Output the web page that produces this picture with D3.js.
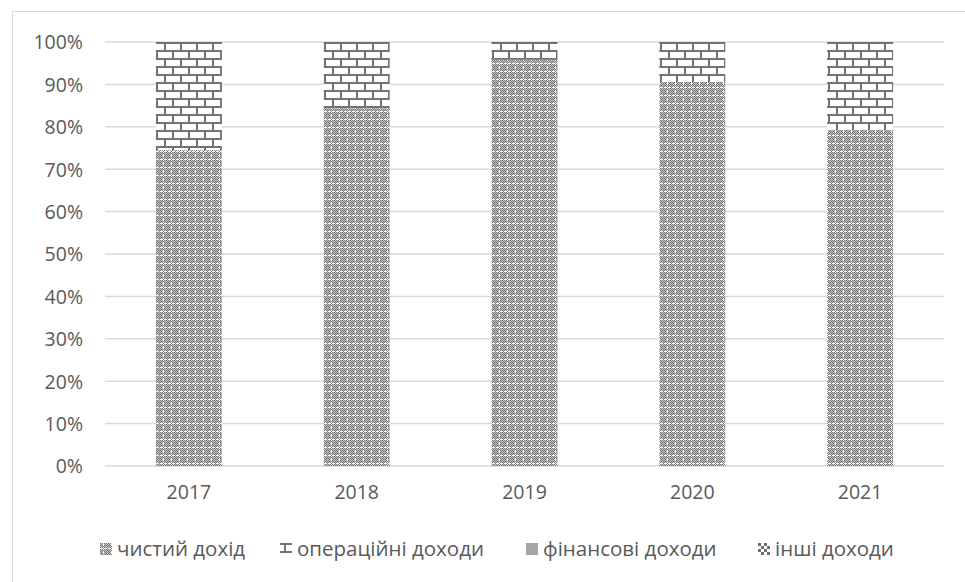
<!DOCTYPE html>
<html>
<head>
<meta charset="utf-8">
<script src="https://cdn.jsdelivr.net/npm/d3@7"></script>
<style>
  html, body { margin: 0; padding: 0; background: #fff; }
  svg { display: block; }
  text { font-family: "Open Sans", "Noto Sans", sans-serif; fill: #595959; }
</style>
</head>
<body>
<svg id="chart" width="965" height="582"></svg>
<script>
// ---- data ----
const years = ["2017", "2018", "2019", "2020", "2021"];
const seriesNames = ["чистий дохід", "операційні доходи", "фінансові доходи", "інші доходи"];
const netIncome = [74.5, 84.4, 95.8, 90.6, 79.2];
const operatingIncome = [25.5, 15.6, 4.2, 9.4, 20.8];
const financialIncome = [0, 0, 0, 0, 0];
const otherIncome = [0, 0, 0, 0, 0];
const yTicks = [0, 10, 20, 30, 40, 50, 60, 70, 80, 90, 100];

const seriesValues = [netIncome, operatingIncome, financialIncome, otherIncome];
const table = years.map((y, i) => {
  const row = { year: y };
  seriesNames.forEach((s, k) => row[s] = seriesValues[k][i]);
  return row;
});

const svg = d3.select("#chart");
const defs = svg.append("defs");

// dotted pattern (чистий дохід)
const pDot = defs.append("pattern").attr("id", "pDot")
  .attr("patternUnits", "userSpaceOnUse").attr("width", 8).attr("height", 8);
pDot.append("rect").attr("width", 8).attr("height", 8).attr("fill", "#fff");
for (let yy = 0; yy < 8; yy++) {
  for (let xx = 0; xx < 8; xx++) {
    if ((xx + yy) % 2 === 0) {
      const gap = (yy === 7 && xx % 4 === 1) || (xx === 3 && yy === 3);
      if (!gap) pDot.append("rect").attr("x", xx).attr("y", yy).attr("width", 1).attr("height", 1).attr("fill", "#777");
    } else {
      if (!(yy === 7 || xx === 3)) pDot.append("rect").attr("x", xx).attr("y", yy).attr("width", 1).attr("height", 1).attr("fill", "#c4c4c4");
    }
  }
}

// brick pattern (операційні доходи)
const pBrick = defs.append("pattern").attr("id", "pBrick")
  .attr("patternUnits", "userSpaceOnUse").attr("width", 16).attr("height", 16).attr("y", 42);
pBrick.append("rect").attr("width", 16).attr("height", 16).attr("fill", "#fff");
pBrick.append("rect").attr("x", 0).attr("y", 0).attr("width", 16).attr("height", 2).attr("fill", "#767171");
pBrick.append("rect").attr("x", 0).attr("y", 8).attr("width", 16).attr("height", 2).attr("fill", "#767171");
pBrick.append("rect").attr("x", 4).attr("y", 0).attr("width", 2).attr("height", 8).attr("fill", "#767171");
pBrick.append("rect").attr("x", 12).attr("y", 8).attr("width", 2).attr("height", 8).attr("fill", "#767171");

// other pattern (інші доходи)
const pOther = defs.append("pattern").attr("id", "pOther")
  .attr("patternUnits", "userSpaceOnUse").attr("width", 6).attr("height", 6);
pOther.append("rect").attr("width", 6).attr("height", 6).attr("fill", "#fff");
pOther.append("rect").attr("x", 0).attr("y", 0).attr("width", 3).attr("height", 3).attr("fill", "#6e6e6e");
pOther.append("rect").attr("x", 3).attr("y", 3).attr("width", 3).attr("height", 3).attr("fill", "#6e6e6e");

const fills = {
  "чистий дохід": "url(#pDot)",
  "операційні доходи": "url(#pBrick)",
  "фінансові доходи": "#a5a5a5",
  "інші доходи": "url(#pOther)"
};

// chart frame
svg.append("rect").attr("x", 12.5).attr("y", 11.5).attr("width", 1000).attr("height", 1000)
  .attr("fill", "none").attr("stroke", "#d9d9d9").attr("stroke-width", 1);

// scales
const x = d3.scaleBand().domain(years).range([105, 944]).paddingInner(0.607).paddingOuter(0.3035);
const y = d3.scaleLinear().domain([0, 100]).range([466, 42]);

// gridlines
svg.append("g").selectAll("line").data(yTicks).join("line")
  .attr("x1", 105).attr("x2", 944)
  .attr("y1", d => y(d)).attr("y2", d => y(d))
  .attr("stroke", "#d9d9d9").attr("stroke-width", 1.5);

// y axis
const yAxis = d3.axisLeft(y).tickValues(yTicks).tickFormat(d => d + "%").tickSize(0).tickPadding(0);
const gy = svg.append("g").attr("transform", "translate(83,0)").call(yAxis);
gy.select(".domain").remove();
gy.selectAll("text").style("font-size", "19.5px").attr("fill", "#595959").attr("dy", "0.35em");

// bars
const stack = d3.stack().keys(seriesNames)(table);
svg.append("g").selectAll("g").data(stack).join("g")
  .attr("fill", d => fills[d.key])
  .selectAll("rect").data(d => d).join("rect")
  .attr("x", d => x(d.data.year))
  .attr("width", x.bandwidth())
  .attr("y", d => y(d[1]))
  .attr("height", d => Math.max(0, y(d[0]) - y(d[1])));

// x axis
const xAxis = d3.axisBottom(x).tickSize(0).tickPadding(0);
const gx = svg.append("g").attr("transform", "translate(0,492)").call(xAxis);
gx.select(".domain").remove();
gx.selectAll("text").style("font-size", "19.5px").attr("fill", "#595959").attr("dy", "0.35em");

// legend
const legendX = [100, 280, 526, 758];
const lg = svg.append("g").selectAll("g").data(seriesNames).join("g")
  .attr("transform", (d, i) => `translate(${legendX[i]},549)`);
lg.append("rect").attr("x", 0).attr("y", -6).attr("width", 12).attr("height", 12)
  .attr("fill", d => fills[d]);
lg.append("text").attr("x", 17).attr("y", 0).attr("dy", "0.35em")
  .style("font-size", "20.5px").text(d => d);
</script>
</body>
</html>
